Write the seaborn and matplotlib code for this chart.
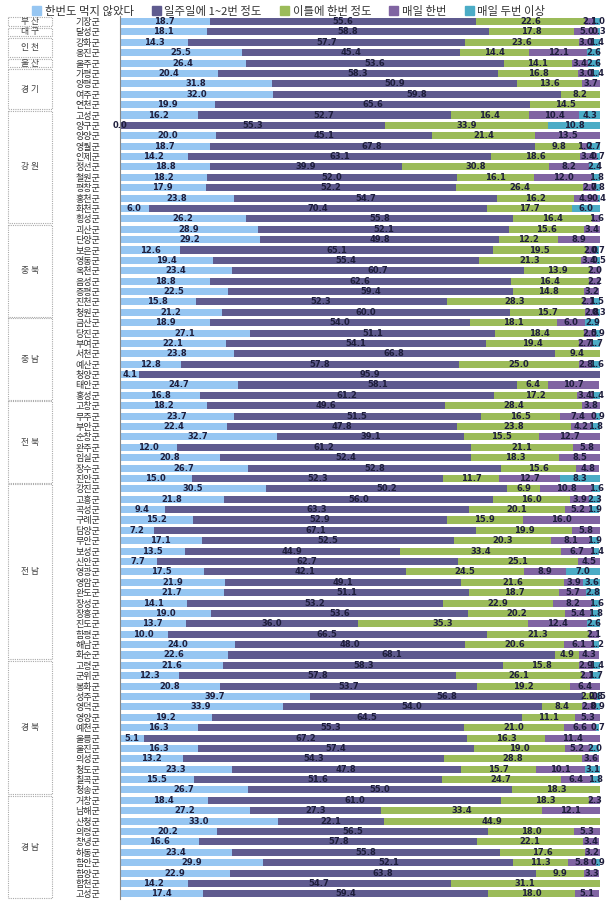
import numpy as np
import pandas as pd
import matplotlib
matplotlib.use("Agg")
import matplotlib.pyplot as plt
import matplotlib.transforms as mtransforms
from matplotlib.patches import Rectangle
import seaborn as sns

series = ["한번도 먹지 않았다", "일주일에 1~2번 정도", "이틀에 한번 정도", "매일 한번", "매일 두번 이상"]
colors = ["#96C6F2", "#5F5B8F", "#9BBB59", "#8064A2", "#4BACC6"]

N = None
districts = ["기장군", "달성군", "강화군", "옹진군", "울주군", "가평군", "양평군", "여주군", "연천군",
             "고성군", "양구군", "양양군", "영월군", "인제군", "정선군", "철원군", "평창군", "홍천군", "화천군", "횡성군",
             "괴산군", "단양군", "보은군", "영동군", "옥천군", "음성군", "증평군", "진천군", "청원군",
             "금산군", "당진군", "부여군", "서천군", "예산군", "청양군", "태안군", "홍성군",
             "고창군", "무주군", "부안군", "순창군", "완주군", "임실군", "장수군", "진안군",
             "강진군", "고흥군", "곡성군", "구례군", "담양군", "무안군", "보성군", "신안군", "영광군",
             "영암군", "완도군", "장성군", "장흥군", "진도군", "함평군", "해남군", "화순군",
             "고령군", "군위군", "봉화군", "성주군", "영덕군", "영양군", "예천군", "울릉군", "울진군",
             "의성군", "청도군", "칠곡군", "청송군",
             "거창군", "남해군", "산청군", "의령군", "창녕군", "하동군", "함안군", "함양군", "합천군", "고성군"]

never = [18.7, 18.1, 14.3, 25.5, 26.4, 20.4, 31.8, 32.0, 19.9,
         16.2, 0.0, 20.0, 18.7, 14.2, 18.8, 18.2, 17.9, 23.8, 6.0, 26.2,
         28.9, 29.2, 12.6, 19.4, 23.4, 18.8, 22.5, 15.8, 21.2,
         18.9, 27.1, 22.1, 23.8, 12.8, 4.1, 24.7, 16.8,
         18.2, 23.7, 22.4, 32.7, 12.0, 20.8, 26.7, 15.0,
         30.5, 21.8, 9.4, 15.2, 7.2, 17.1, 13.5, 7.7, 17.5,
         21.9, 21.7, 14.1, 19.0, 13.7, 10.0, 24.0, 22.6,
         21.6, 12.3, 20.8, 39.7, 33.9, 19.2, 16.3, 5.1, 16.3,
         13.2, 23.3, 15.5, 26.7,
         18.4, 27.2, 33.0, 20.2, 16.6, 23.4, 29.9, 22.9, 14.2, 17.4]

weekly = [55.6, 58.8, 57.7, 45.4, 53.6, 58.3, 50.9, 59.8, 65.6,
          52.7, 55.3, 45.1, 67.8, 63.1, 39.9, 52.0, 52.2, 54.7, 70.4, 55.8,
          52.1, 49.8, 65.1, 55.4, 60.7, 62.6, 59.4, 52.3, 60.0,
          54.0, 51.1, 54.1, 66.8, 57.8, 95.9, 58.1, 61.2,
          49.6, 51.5, 47.8, 39.1, 61.2, 52.4, 52.8, 52.3,
          50.2, 56.0, 63.3, 52.9, 67.1, 52.5, 44.9, 62.7, 42.1,
          49.1, 51.1, 53.2, 53.6, 36.0, 66.5, 48.0, 68.1,
          58.3, 57.8, 53.7, 56.8, 54.0, 64.5, 55.3, 67.2, 57.4,
          54.3, 47.8, 51.6, 55.0,
          61.0, 27.3, 22.1, 56.5, 57.8, 55.8, 52.1, 63.8, 54.7, 59.4]

every2 = [22.6, 17.8, 23.6, 14.4, 14.1, 16.8, 13.6, 8.2, 14.5,
          16.4, 33.9, 21.4, 9.8, 18.6, 30.8, 16.1, 26.4, 16.2, 17.7, 16.4,
          15.6, 12.2, 19.5, 21.3, 13.9, 16.4, 14.8, 28.3, 15.7,
          18.1, 18.4, 19.4, 9.4, 25.0, N, 6.4, 17.2,
          28.4, 16.5, 23.8, 15.5, 21.1, 18.3, 15.6, 11.7,
          6.9, 16.0, 20.1, 15.9, 19.9, 20.3, 33.4, 25.1, 24.5,
          21.6, 18.7, 22.9, 20.2, 35.3, 21.3, 20.6, 4.9,
          15.8, 26.1, 19.2, 2.2, 8.4, 11.1, 21.0, 16.3, 19.0,
          28.8, 15.7, 24.7, 18.3,
          18.3, 33.4, 44.9, 18.0, 22.1, 17.6, 11.3, 9.9, 31.1, 18.0]

daily = [2.1, 5.0, 3.0, 12.1, 3.4, 3.0, 3.7, N, N,
         10.4, N, 13.5, 1.0, 3.4, 8.2, 12.0, 2.7, 4.9, N, 1.6,
         3.4, 8.9, 2.0, 3.4, 2.0, 2.2, 3.2, 2.1, 2.8,
         6.0, 2.5, 2.7, N, 2.8, N, 10.7, 3.4,
         3.8, 7.4, 4.2, 12.7, 5.8, 8.5, 4.8, 12.7,
         10.8, 3.9, 5.2, 16.0, 5.8, 8.1, 6.7, 4.5, 8.9,
         3.9, 5.7, 8.2, 5.4, 12.4, 2.1, 6.1, 4.3,
         2.9, 2.1, 6.4, 0.8, 2.8, 5.3, 6.6, 11.4, 5.2,
         3.6, 10.1, 6.4, N,
         2.3, 12.1, N, 5.3, 3.4, 3.2, 5.8, 3.3, N, 5.1]

twice = [1.0, 0.3, 1.4, 2.6, 2.6, 1.4, N, N, N,
         4.3, 10.8, N, 2.7, 0.7, 2.4, 1.8, 0.8, 0.4, 6.0, N,
         N, N, 0.7, 0.5, N, N, N, 1.5, 0.3,
         2.9, 0.9, 1.7, N, 1.6, N, N, 1.4,
         N, 0.9, 1.8, N, N, N, N, 8.3,
         1.6, 2.3, 1.9, N, N, 1.9, 1.4, N, 7.0,
         3.6, 2.8, 1.6, 1.8, 2.6, N, 1.2, N,
         1.4, 1.7, N, 0.5, 0.9, N, 0.7, N, 2.0,
         N, 3.1, 1.8, N,
         N, N, N, N, N, N, 0.9, N, N, N]

regions = ["부 산", "대 구", "인 천", "울 산", "경 기", "강 원", "충 북", "충 남", "전 북", "전 남", "경 북", "경 남"]
region_sizes = [1, 1, 2, 1, 4, 11, 9, 8, 8, 17, 13, 10]

df = pd.DataFrame({"row": np.arange(len(districts)), "name": districts})
cols = [never, weekly, every2, daily, twice]
vals = np.array([[np.nan if v is None else v for v in c] for c in cols]).T
cum = np.nancumsum(vals, axis=1)

sns.set_theme(style="white")
plt.rcParams["font.family"] = ["Noto Sans CJK KR", "DejaVu Sans"]

fig = plt.figure(figsize=(6.14, 9.09), dpi=100)
ax = fig.add_axes([0.195, 0.011, 0.782, 0.971])

# draw cumulative totals from back to front so they stack
for k in range(4, -1, -1):
    df["cum"] = cum[:, k]
    sns.barplot(data=df, x="cum", y="row", orient="h", color=colors[k],
                saturation=1, width=0.68, ax=ax, linewidth=0)

for i in range(len(districts)):
    start = 0.0
    for k in range(5):
        v = vals[i, k]
        if np.isnan(v):
            continue
        ax.text(start + v / 2, i, f"{v:.1f}", ha="center", va="center",
                fontsize=6, fontweight="bold", color="#1E1E3C", family="DejaVu Sans")
        start += v

ax.set_xlim(0, 100)
ax.set_ylim(len(districts) - 0.5, -0.5)
ax.set_xticks([])
ax.set_yticks(range(len(districts)))
ax.set_yticklabels(districts, fontsize=6.5, color="#333333")
ax.tick_params(axis="y", length=2, pad=12)
ax.set_xlabel("")
ax.set_ylabel("")
for s in ["top", "right", "bottom"]:
    ax.spines[s].set_visible(False)
ax.spines["left"].set_color("#888888")
ax.spines["left"].set_linewidth(0.8)

# region boxes at the far left
trans = mtransforms.blended_transform_factory(ax.transAxes, ax.transData)
pos = 0
for reg, n in zip(regions, region_sizes):
    y0 = pos - 0.42
    rect = Rectangle((-0.232, y0), 0.09, n - 0.16, transform=trans, clip_on=False,
                     fill=False, edgecolor="#aaaaaa", linewidth=0.8, linestyle=(0, (1, 1)))
    ax.add_patch(rect)
    ax.text(-0.187, pos + (n - 1) / 2, reg, transform=trans, ha="center", va="center",
            fontsize=6.3, color="#444444")
    pos += n

handles = [Rectangle((0, 0), 1, 1, color=c) for c in colors]
fig.legend(handles, series, loc="upper center", bbox_to_anchor=(0.47, 1.005), ncol=5,
           frameon=False, fontsize=8.2, handlelength=0.8, handleheight=0.8,
           handletextpad=0.3, columnspacing=1.6, labelcolor="#333333")

fig.savefig("out.png", dpi=100)
